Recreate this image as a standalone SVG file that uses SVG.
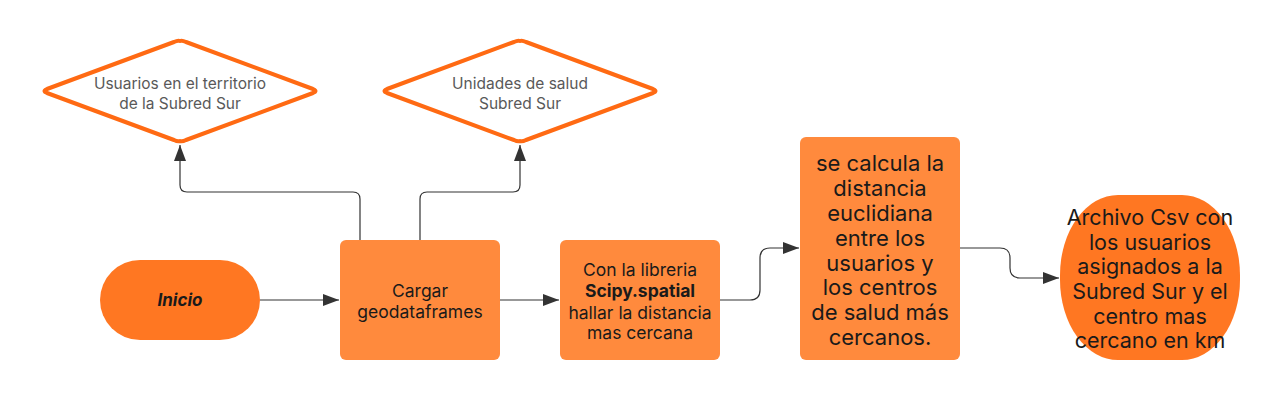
<svg xmlns="http://www.w3.org/2000/svg" width="1280" height="400" viewBox="0 0 1280 400">
<style>
.dia{fill:#fff;stroke:#FF6A13;stroke-width:4;stroke-linejoin:round}
.box{fill:#FF8A3D}
.term{fill:#FF7722}
.dt{font-family:Inter,"Liberation Sans",sans-serif;font-size:15.5px;fill:#595959;text-anchor:middle}
.t{font-family:Inter,"Liberation Sans",sans-serif;fill:#1a1a1a;text-anchor:middle}
.c{fill:none;stroke:#333;stroke-width:1.2}
</style>
<defs>
<marker id="ahb" viewBox="0 0 16 12" refX="16" refY="6" markerWidth="16" markerHeight="12" markerUnits="userSpaceOnUse" orient="auto">
<path d="M0,0 L16,6 L0,12 z" fill="#333"/>
</marker>
</defs>
<g id="connectors">
<path class="c" d="M260,300 L339,300" marker-end="url(#ahb)"/>
<path class="c" d="M360,240 L360,199 Q360,192 353,192 L187,192 Q180,192 180,185 L180,145" marker-end="url(#ahb)"/>
<path class="c" d="M420,240 L420,199 Q420,192 427,192 L513,192 Q520,192 520,185 L520,145" marker-end="url(#ahb)"/>
<path class="c" d="M500,300 L559,300" marker-end="url(#ahb)"/>
<path class="c" d="M720,300 L750,300 Q760,300 760,290 L760,258 Q760,248 770,248 L799,248" marker-end="url(#ahb)"/>
<path class="c" d="M960,248 L1000,248 Q1010,248 1010,258 L1010,268 Q1010,278 1020,278 L1059,278" marker-end="url(#ahb)"/>
</g>
<g id="n_usuarios">
<path class="dia" d="M180,41 Q182,40 186,42 L313,89 Q318,91 313,93 L186,140 Q182,142 180,141 Q178,142 174,140 L47,93 Q42,91 47,89 L174,42 Q178,40 180,41 Z"/>
<text class="dt" x="180" y="88.5">Usuarios en el territorio</text>
<text class="dt" x="180" y="108.5">de la Subred Sur</text>
</g>
<g id="n_unidades">
<path class="dia" d="M520,41 Q522,40 526,42 L653,89 Q658,91 653,93 L526,140 Q522,142 520,141 Q518,142 514,140 L387,93 Q382,91 387,89 L514,42 Q518,40 520,41 Z"/>
<text class="dt" x="520" y="88.5">Unidades de salud</text>
<text class="dt" x="520" y="108.5">Subred Sur</text>
</g>
<g id="n_inicio">
<rect class="term" x="100" y="260" width="160" height="80" rx="40"/>
<text class="t" x="180" y="306" font-size="17" font-weight="bold" font-style="italic">Inicio</text>
</g>
<g id="n_cargar">
<rect class="box" x="340" y="240" width="160" height="120" rx="6"/>
<text class="t" x="420" y="296.5" font-size="17.5">Cargar</text>
<text class="t" x="420" y="317.5" font-size="17.5">geodataframes</text>
</g>
<g id="n_scipy">
<rect class="box" x="560" y="240" width="160" height="120" rx="6"/>
<text class="t" x="640" y="275.5" font-size="17.5">Con la libreria</text>
<text class="t" x="640" y="297" font-size="17.5" font-weight="bold">Scipy.spatial</text>
<text class="t" x="640" y="318.5" font-size="17.5">hallar la distancia</text>
<text class="t" x="640" y="339" font-size="17.5">mas cercana</text>
</g>
<g id="n_calcula">
<rect class="box" x="800" y="137" width="160" height="223" rx="6"/>
<g class="t" font-size="22">
<text x="880" y="170.5">se calcula la</text>
<text x="880" y="195.5">distancia</text>
<text x="880" y="220.5">euclidiana</text>
<text x="880" y="245.5">entre los</text>
<text x="880" y="270.5">usuarios y</text>
<text x="880" y="295">los centros</text>
<text x="880" y="320">de salud más</text>
<text x="880" y="344.5">cercanos.</text>
</g>
</g>
<g id="n_archivo">
<rect class="term" x="1060" y="195" width="180" height="165" rx="58" ry="80"/>
<g class="t" font-size="21.5">
<text x="1150" y="224.5">Archivo Csv con</text>
<text x="1150" y="249.5">los usuarios</text>
<text x="1150" y="274">asignados a la</text>
<text x="1150" y="299">Subred Sur y el</text>
<text x="1150" y="324">centro mas</text>
<text x="1150" y="348">cercano en km</text>
</g>
</g>
</svg>
